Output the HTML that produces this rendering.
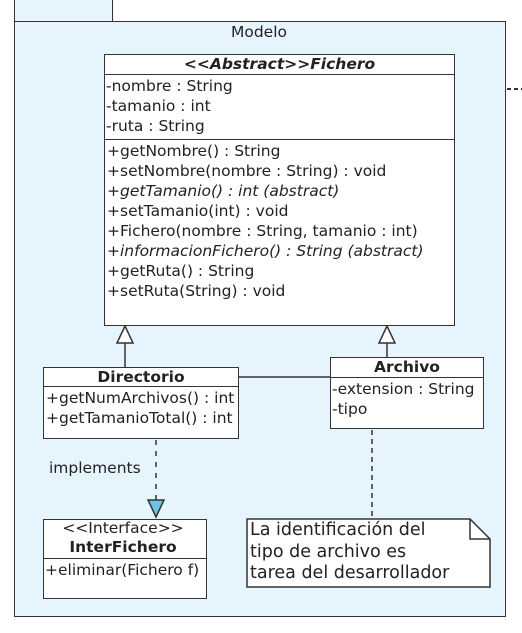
<!DOCTYPE html>
<html><head><meta charset="utf-8"><style>
body{margin:0;width:522px;height:633px;background:#fff;position:relative;overflow:hidden;font-family:"DejaVu Sans","Liberation Sans",sans-serif;font-size:15.5px;color:#222}
.a{position:absolute;box-sizing:border-box}
.box{background:#fff;border:1.5px solid #333}
.t{position:absolute;white-space:nowrap;line-height:20px}
</style></head><body>
<div class="a" style="left:14px;top:-2px;width:99px;height:25px;background:#e6f4fd;border:1.5px solid #333"></div>
<div class="a" style="left:14px;top:21px;width:492px;height:596px;background:#e6f4fd;border:1.5px solid #333"></div>
<div class="t" style="left:0;width:518px;text-align:center;top:22px">Modelo</div>
<svg class="a" style="left:0;top:0" width="522" height="633">
<line x1="507" y1="89" x2="522" y2="89" stroke="#333" stroke-width="2" stroke-dasharray="4,3"/>
<line x1="125" y1="343" x2="125" y2="367" stroke="#333" stroke-width="1.5"/>
<line x1="387" y1="343" x2="387" y2="357" stroke="#333" stroke-width="1.5"/>
<polygon points="125,326 117,343 133,343" fill="#fff" stroke="#333" stroke-width="1.5"/>
<polygon points="387,326 379,343 395,343" fill="#fff" stroke="#333" stroke-width="1.5"/>
<line x1="238" y1="377" x2="330" y2="377" stroke="#333" stroke-width="1.5"/>
<line x1="156" y1="440" x2="156" y2="500" stroke="#333" stroke-width="1.5" stroke-dasharray="5,6"/>
<polygon points="148,500 164,500 156,517" fill="#6cc3e6" stroke="#333" stroke-width="1.5"/>
<line x1="372" y1="430" x2="372" y2="519" stroke="#333" stroke-width="1.5" stroke-dasharray="5,4"/>
<polygon points="247,519 470,519 490,539 490,587 247,587" fill="#fff" stroke="#333" stroke-width="1.5"/>
<polyline points="470,519 470,539 490,539" fill="none" stroke="#333" stroke-width="1.5"/>
</svg>
<div class="a box" style="left:104px;top:54px;width:351px;height:272px"></div>
<div class="a" style="left:104px;top:74px;width:351px;border-top:1.5px solid #333"></div>
<div class="a" style="left:104px;top:139px;width:351px;border-top:1.5px solid #333"></div>
<div class="t" style="left:104px;width:351px;text-align:center;top:54px;font-weight:bold;font-style:italic">&lt;&lt;Abstract&gt;&gt;Fichero</div>
<div class="t" style="left:106px;top:76px">-nombre : String<br>-tamanio : int<br>-ruta : String</div>
<div class="t" style="left:107px;top:141px">+getNombre() : String<br>+setNombre(nombre : String) : void<br><i>+getTamanio() : int (abstract)</i><br>+setTamanio(int) : void<br>+Fichero(nombre : String, tamanio : int)<br><i>+informacionFichero() : String (abstract)</i><br>+getRuta() : String<br>+setRuta(String) : void</div>
<div class="a box" style="left:43px;top:367px;width:196px;height:72px"></div>
<div class="a" style="left:43px;top:386px;width:196px;border-top:1.5px solid #333"></div>
<div class="t" style="left:43px;width:196px;text-align:center;top:367px;font-weight:bold">Directorio</div>
<div class="t" style="left:46px;top:388px;width:191px;overflow:hidden">+getNumArchivos() : int<br>+getTamanioTotal() : int</div>
<div class="a box" style="left:330px;top:357px;width:154px;height:72px"></div>
<div class="a" style="left:330px;top:377px;width:154px;border-top:1.5px solid #333"></div>
<div class="t" style="left:330px;width:154px;text-align:center;top:357px;font-weight:bold">Archivo</div>
<div class="t" style="left:332px;top:379px">-extension : String<br>-tipo</div>
<div class="t" style="left:49px;top:458px">implements</div>
<div class="a box" style="left:43px;top:519px;width:164px;height:80px"></div>
<div class="a" style="left:43px;top:558px;width:164px;border-top:1.5px solid #333"></div>
<div class="t" style="left:43px;width:160px;text-align:center;top:519px;line-height:19px">&lt;&lt;Interface&gt;&gt;<br><b>InterFichero</b></div>
<div class="t" style="left:45px;top:560px">+eliminar(Fichero f)</div>
<div class="t" style="left:250px;top:520px;font-size:17.5px;line-height:21.5px">La identificación del<br>tipo de archivo es<br>tarea del desarrollador</div>
</body></html>
